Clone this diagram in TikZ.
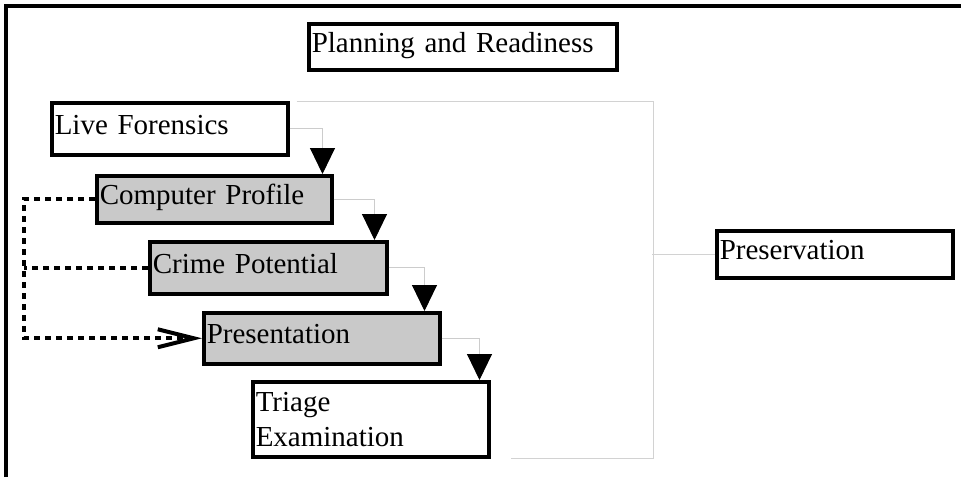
\documentclass[tikz,border=0pt]{standalone}
\usepackage{fontspec}
\setmainfont{Liberation Serif}
\usetikzlibrary{arrows.meta}

\tikzset{
  etapa/.style={draw, line width=3.5pt, anchor=north west, inner xsep=3pt,
    inner ysep=0pt, align=left, font=\fontsize{29}{35}\selectfont,
    text height=20pt, text depth=9pt},
  gris/.style={etapa, fill=gray!42},
  flujo/.style={draw=gray!40, line width=1pt,
    -{Triangle[length=26pt,width=25pt,color=black]}},
  enlace/.style={draw=gray!35, line width=1pt},
  punteado/.style={line width=4pt, dash pattern=on 6pt off 5pt}
}

\begin{document}
\begin{tikzpicture}[x=1pt, y=-1pt]
  \useasboundingbox (0,0) rectangle (961,477);

  % Marco
  \draw[line width=3.5pt] (6,477) -- (6,6) -- (961,6);

  % Cajas
  \node[etapa, text width=302pt, minimum height=46pt] (planning) at (307,22) {Planning and Readiness};
  \node[etapa, text width=230pt, minimum height=52pt] (live) at (50,101) {Live Forensics};
  \node[gris, text width=229pt, minimum height=47pt] (profile) at (95,174) {Computer Profile};
  \node[gris, text width=231pt, minimum height=52pt] (crime) at (148,240) {Crime Potential};
  \node[gris, text width=230pt, minimum height=51pt] (present) at (202,311) {Presentation};
  \node[etapa, text width=230pt, minimum height=75pt, text height=30pt, text depth=45pt] (triage) at (251,380) {Triage\\Examination};
  \node[etapa, text width=230pt, minimum height=47pt] (preserv) at (715,229) {Preservation};

  % Flechas en cascada
  \draw[flujo] (live.east) -| ([xshift=-11pt]profile.north east);
  \draw[flujo] (profile.east) -| ([xshift=-14pt]crime.north east);
  \draw[flujo] (crime.east) -| ([xshift=-17pt]present.north east);
  \draw[flujo] (present.east) -| ([xshift=-11pt]triage.north east);

  % Corchete hacia la preservacion
  \draw[enlace] ([xshift=7pt]live.north east) -| ([xshift=163pt]triage.south east)
    -- ([xshift=20pt]triage.south east);
  \draw[enlace] (preserv.west) -- ++(-63,0);

  % Retorno punteado
  \coordinate (riel) at (24,0);
  \draw[punteado, -{Straight Barb[length=36pt,width=18pt]}]
    (profile.west) -- (profile.west -| riel) |- (present.west);
  \draw[punteado] (crime.west) -- (crime.west -| riel);
\end{tikzpicture}
\end{document}
